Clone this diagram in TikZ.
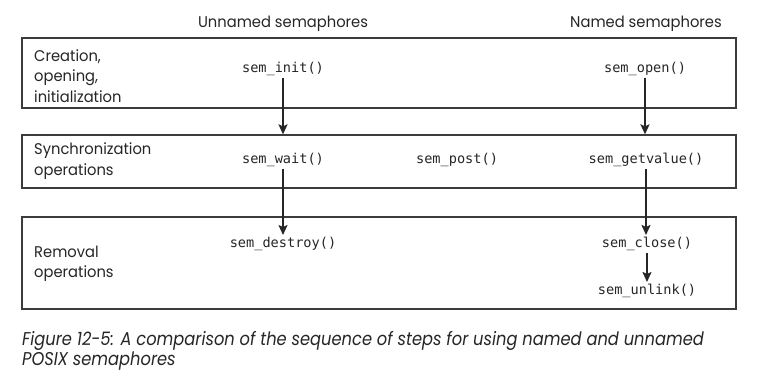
\documentclass[tikz,border=0pt]{standalone}
\usepackage{fontspec}
\setmainfont[FakeStretch=0.95]{Poppins}
\newfontfamily\capfont[FakeStretch=0.88]{Poppins}
\setmonofont{DejaVu Sans Mono}
\usetikzlibrary{arrows.meta}
\definecolor{ink}{HTML}{262626}
\definecolor{rule}{HTML}{3C3C3C}
\begin{document}
\begin{tikzpicture}[x=1pt,y=-1pt,
  band/.style={draw=rule,line width=1.3pt,minimum width=714pt,inner sep=0pt},
  head/.style={font=\fontsize{15.5}{18}\selectfont,text=ink},
  lab/.style={font=\fontsize{15.5}{20.5}\selectfont,text=ink,align=left,anchor=west,inner sep=0pt},
  fn/.style={font=\ttfamily\fontsize{13.6}{16}\selectfont,text=ink,inner sep=2pt},
  capt/.style={font=\capfont\itshape\fontsize{18.5}{20}\selectfont,text=ink,anchor=base west,inner sep=0pt},
  flow/.style={draw=ink,line width=1.7pt,-{Stealth[length=10pt,width=9pt,inset=2pt]}}]
\useasboundingbox (0,0) rectangle (760,378);
\fill[white] (0,0) rectangle (760,378);
% column headers
\node[head] (hu) at (283,24) {Unnamed semaphores};
\node[head] (hn) at (646,24) {Named semaphores};
% bands
\node[band,minimum height=70pt] (r1) at (379,73) {};
\node[band,minimum height=53pt] (r2) at (379,161.5) {};
\node[band,minimum height=92pt] (r3) at (379,263) {};
% row labels
\node[lab] (l1) at (34,76) {Creation,\\opening,\\initialization};
\node[lab] (l2) at (34,161) {Synchronization\\operations};
\node[lab] (l3) at (34,264) {Removal\\operations};
% functions
\node[fn] (init) at (283,69) {sem\_init()};
\node[fn] (open) at (645,69) {sem\_open()};
\node[fn] (wait) at (283,160) {sem\_wait()};
\node[fn] (post) at (457,160) {sem\_post()};
\node[fn] (getv) at (646,160) {sem\_getvalue()};
\node[fn] (destroy) at (283,244) {sem\_destroy()};
\node[fn] (close) at (647,244) {sem\_close()};
\node[fn] (unlink) at (647,291) {sem\_unlink()};
% arrows
\coordinate (a1) at (init.south |- r2.north);
\coordinate (a2) at (open.south |- r2.north);
\draw[flow] (init.south) -- (a1);
\draw[flow] (open.south) -- (a2);
\draw[flow] (wait.south) -- (destroy.north);
\draw[flow] (getv.south) -- (getv.south |- close.north);
\draw[flow] (close.south) -- (close.south |- unlink.north);
% caption
\node[capt] (cap1) at (22,345) {Figure 12-5: A comparison of the sequence of steps for using named and unnamed};
\node[capt] (cap2) at (22,365) {POSIX semaphores};
\end{tikzpicture}
\end{document}
